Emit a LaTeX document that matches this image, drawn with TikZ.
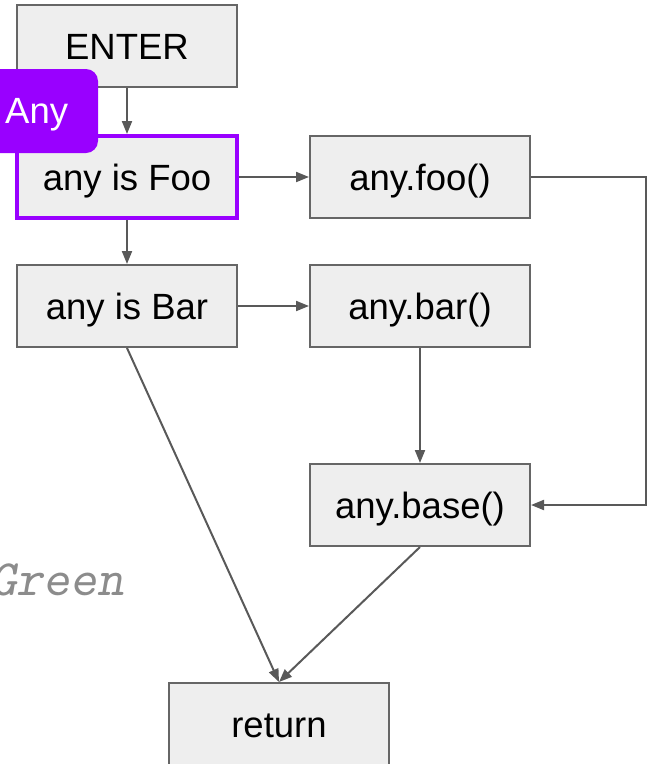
\documentclass[tikz,border=0pt]{standalone}
\usepackage{fontspec}
\setmainfont{Liberation Sans}
\usetikzlibrary{arrows.meta}
\definecolor{boxfill}{HTML}{EEEEEE}
\definecolor{boxline}{HTML}{666666}
\definecolor{wire}{HTML}{595959}
\definecolor{anypurple}{HTML}{9900FF}
\definecolor{notegray}{HTML}{8C8C8C}
\begin{document}
\begin{tikzpicture}[x=1pt,y=-1pt,
  stepbox/.style={draw=boxline, line width=2pt, fill=boxfill,
    minimum width=220pt, minimum height=82pt, inner sep=0pt,
    font=\fontsize{36.5}{44}\selectfont, text height=26pt, text depth=0pt},
  hilite/.style={stepbox, draw=anypurple, line width=4pt},
  flow/.style={draw=wire, line width=2pt, -{Triangle[length=13pt,width=10pt]}},
  tagbox/.style={fill=anypurple, rounded corners=12pt, minimum width=120pt,
    minimum height=84pt, inner sep=0pt},
  tagtext/.style={text=white, inner sep=0pt, anchor=base west,
    font=\fontsize{36.5}{44}\selectfont}]
  \useasboundingbox (0,0) rectangle (648,764);
  \clip (0,0) rectangle (648,764);

  % flow chart boxes
  \node (enter)   [stepbox] at (127,46)    {ENTER};
  \node (foo)     [hilite]  at (127,177)   {any is Foo};
  \node (anyfoo)  [stepbox] at (420,177)   {any.foo()};
  \node (bar)     [stepbox] at (127,306)   {any is Bar};
  \node (anybar)  [stepbox] at (420,306)   {any.bar()};
  \node (anybase) [stepbox] at (420,505)   {any.base()};
  \node (ret)     [stepbox] at (279,724)   {return};

  % type tag on the highlighted test
  \node (anytag)  [tagbox]  at (38,111) {};
  \node (anytext) [tagtext] at (5,123) {Any};

  % side note
  \node (note) [anchor=base west, inner sep=0pt, text=notegray,
    font=\ttfamily\slshape\fontsize{51}{56}\selectfont] at (-10,595) {Green};

  % connectors
  \coordinate (bend) at (646,177);
  \draw[flow] (enter) -- (foo);
  \draw[flow] (foo) -- (anyfoo);
  \draw[flow] (foo) -- (bar);
  \draw[flow] (bar) -- (anybar);
  \draw[flow] (anybar) -- (anybase);
  \draw[flow] (anyfoo.east) -- (bend) |- (anybase.east);
  \draw[flow] (bar.south) -- (ret.north);
  \draw[flow] (anybase.south) -- (ret.north);
\end{tikzpicture}
\end{document}
